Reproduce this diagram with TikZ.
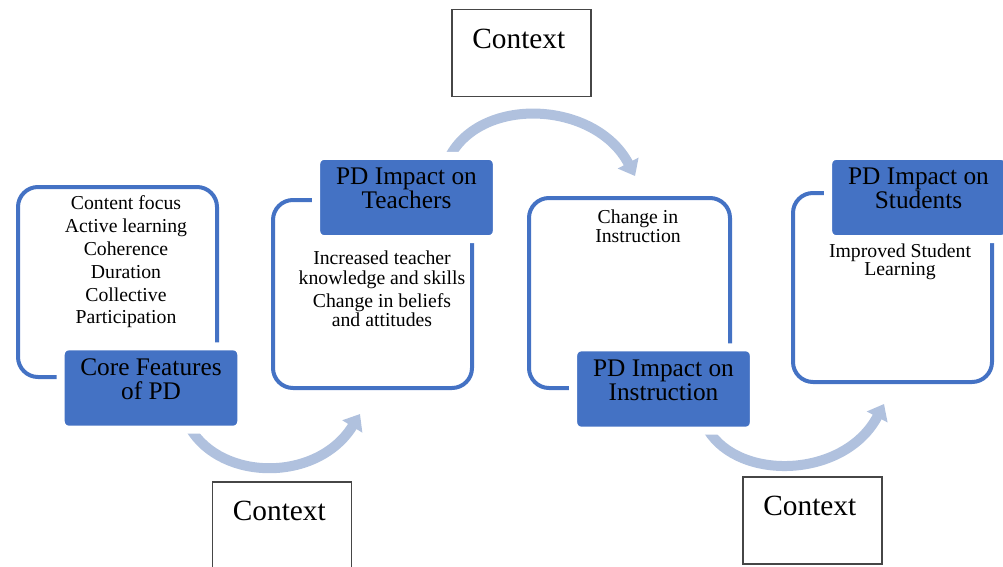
\documentclass[tikz,border=0pt]{standalone}
\usepackage{fontspec}
\setmainfont{Liberation Serif}
\usetikzlibrary{arrows.meta}

\definecolor{pdblue}{RGB}{68,114,196}
\definecolor{flowblue}{RGB}{176,193,222}
\definecolor{ctxgray}{RGB}{70,70,70}

\tikzset{
  outline/.style={draw=pdblue, line width=3pt, rounded corners=15pt},
  headbox/.style={fill=pdblue, draw=white, line width=6pt, rounded corners=6pt,
    minimum width=135.5pt, minimum height=62.5pt},
  headtext/.style={anchor=north, align=center, inner xsep=0pt, inner ysep=12pt,
    font=\fontsize{19}{18}\selectfont},
  listtext/.style={align=center, inner sep=0pt, font=\fontsize{14.8}{17.1}\selectfont},
  ctxbox/.style={draw=ctxgray, line width=1.1pt, fill=white,
    minimum width=104.25pt, minimum height=65.5pt},
  ctxtext/.style={anchor=north, inner ysep=15pt, xshift=-2pt,
    font=\fontsize{22}{26}\selectfont},
  flow/.style={draw=flowblue, line width=7.5pt, -{Triangle[length=11pt,width=17pt]}}
}

\begin{document}
\begin{tikzpicture}[x=0.75pt,y=-0.75pt]
\path[use as bounding box, clip] (0,0) rectangle (1003,567);

\coordinate (flow1a) at (190,428);
\coordinate (flow1b) at (360,414);
\coordinate (flow2a) at (448,160);
\coordinate (flow2b) at (635,176);
\coordinate (flow3a) at (708,430);
\coordinate (flow3b) at (884,404);
\draw[flow] (flow1a) .. controls (222,482) and (318,482) .. (flow1b);
\draw[flow] (flow2a) .. controls (478,95) and (595,100) .. (flow2b);
\draw[flow] (flow3a) .. controls (740,482) and (845,478) .. (flow3b);

\node[outline, minimum width=149.25pt, minimum height=142.5pt] (featbox) at (117.5,282) {};
\node[outline, minimum width=149.25pt, minimum height=141pt] (teachbox) at (372.5,294) {};
\node[outline, minimum width=150.75pt, minimum height=142.5pt] (instrbox) at (629.5,293) {};
\node[outline, minimum width=149.25pt, minimum height=141.75pt] (studbox) at (892.5,287.5) {};

\node[listtext] (featlist) at (126,262)
  {Content focus\\Active learning\\Coherence\\Duration\\Collective\\Participation};
\node[listtext, font=\fontsize{14.8}{14.5}\selectfont] (teachlist) at (382,289)
  {Increased teacher\\knowledge and skills\\[3pt]Change in beliefs\\and attitudes};
\node[listtext, font=\fontsize{14.8}{14.3}\selectfont] (instrlist) at (638,226)
  {Change in\\Instruction};
\node[listtext, font=\fontsize{14.8}{13.6}\selectfont] (studlist) at (900,262)
  {Improved Student\\Learning};

\node[headbox] (core) at (151,388) {};
\node[headbox] (teach) at (406.5,197.5) {};
\node[headbox] (instr) at (663.5,389) {};
\node[headbox] (stud) at (918.5,197.5) {};
\node[headtext] (coretxt) at (core.north) {Core Features\\of PD};
\node[headtext] (teachtxt) at (teach.north) {PD Impact on\\Teachers};
\node[headtext] (instrtxt) at (instr.north) {PD Impact on\\Instruction};
\node[headtext] (studtxt) at (stud.north) {PD Impact on\\Students};

\node[ctxbox] (ctxtop) at (521.5,53) {};
\node[ctxbox] (ctxleft) at (282,525.5) {};
\node[ctxbox] (ctxright) at (812.5,520.5) {};
\node[ctxtext] (ctxtoptxt) at (ctxtop.north) {Context};
\node[ctxtext] (ctxlefttxt) at (ctxleft.north) {Context};
\node[ctxtext] (ctxrighttxt) at (ctxright.north) {Context};
\end{tikzpicture}
\end{document}
